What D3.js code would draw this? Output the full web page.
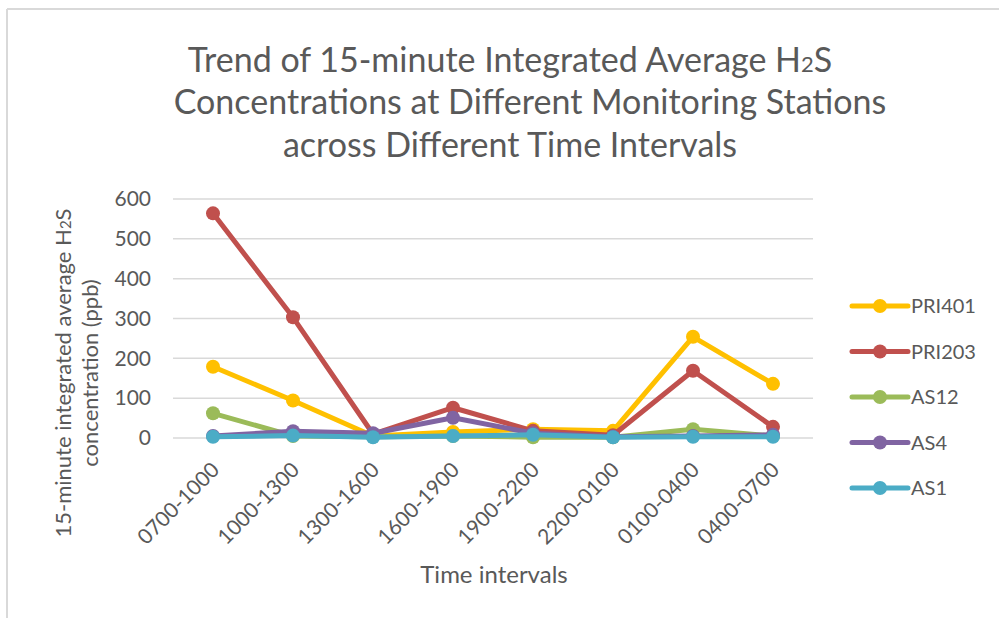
<!DOCTYPE html>
<html>
<head>
<meta charset="utf-8">
<script src="https://cdn.jsdelivr.net/npm/d3@7"></script>
<style>
  body { margin: 0; background: #fff; }
  text { font-family: Lato, "Open Sans", sans-serif; fill: #595959; }
</style>
</head>
<body>
<div id="chart"></div>
<script>
// time intervals on the x axis
var intervals = ["0700-1000", "1000-1300", "1300-1600", "1600-1900", "1900-2200", "2200-0100", "0100-0400", "0400-0700"];
var yTicks = [0, 100, 200, 300, 400, 500, 600];

// series values (ppb)
var pri401 = [179, 94, 5, 15, 22, 18, 254, 136];
var pri203 = [564, 303, 10, 76, 18, 7, 169, 28];
var as12 = [62, 5, 3, 5, 2, 2, 22, 5];
var as4 = [5, 17, 12, 51, 12, 3, 5, 8];
var as1 = [3, 6, 2, 5, 8, 2, 3, 3];

var seriesNames = ["PRI401", "PRI203", "AS12", "AS4", "AS1"];
var seriesColors = ["#ffc000", "#c0504d", "#9bbb59", "#8064a2", "#4bacc6"];
var seriesValues = [pri401, pri203, as12, as4, as1];

var W = 999, H = 618;
var margin = {top: 199, right: 186, bottom: 180, left: 173},
    width = W - margin.left - margin.right,
    height = H - margin.top - margin.bottom;

var svg = d3.select("#chart").append("svg")
    .attr("width", W)
    .attr("height", H);

// outer frame (only top and left edges show)
svg.append("line").attr("x1", 7).attr("x2", W).attr("y1", 9).attr("y2", 9)
    .attr("stroke", "#d9d9d9").attr("stroke-width", 2);
svg.append("line").attr("x1", 7).attr("x2", 7).attr("y1", 9).attr("y2", H)
    .attr("stroke", "#d9d9d9").attr("stroke-width", 2);

// title
var title = svg.append("text")
    .attr("text-anchor", "middle")
    .style("font-size", "34px");
var t1 = title.append("tspan").attr("x", 510).attr("y", 72);
t1.append("tspan").text("Trend of 15-minute Integrated Average H");
t1.append("tspan").style("font-size", "22px").text("2");
t1.append("tspan").text("S");
title.append("tspan").attr("x", 530).attr("y", 114).text("Concentrations at Different Monitoring Stations");
title.append("tspan").attr("x", 510).attr("y", 157).text("across Different Time Intervals");

var g = svg.append("g")
    .attr("transform", "translate(" + margin.left + "," + margin.top + ")");

var x = d3.scalePoint()
    .domain(intervals)
    .range([0, width])
    .padding(0.5);

var y = d3.scaleLinear()
    .domain([0, 600])
    .range([height, 0]);

// gridlines
g.selectAll(".grid")
    .data(yTicks)
  .enter().append("line")
    .attr("class", "grid")
    .attr("x1", 0).attr("x2", width)
    .attr("y1", function(d) { return y(d); })
    .attr("y2", function(d) { return y(d); })
    .attr("stroke", "#d9d9d9")
    .attr("stroke-width", 1.5);

var yAxis = d3.axisLeft(y).tickValues(yTicks).tickSize(0).tickPadding(22);
g.append("g").call(yAxis)
    .call(function(s) { s.select(".domain").remove(); })
    .selectAll("text")
    .style("font-size", "21px")
    .style("font-family", "Lato, sans-serif")
    .attr("fill", "#595959");

var xAxis = d3.axisBottom(x).tickSize(0);
g.append("g")
    .attr("transform", "translate(0," + height + ")")
    .call(xAxis)
    .call(function(s) { s.select(".domain").remove(); })
    .selectAll("text")
    .style("font-size", "21px")
    .style("font-family", "Lato, sans-serif")
    .attr("fill", "#595959")
    .attr("text-anchor", "end")
    .attr("x", 0).attr("y", 0)
    .attr("dy", "0.35em")
    .attr("transform", "translate(2,28) rotate(-45)");

// axis titles
svg.append("text")
    .attr("x", 494).attr("y", 583)
    .attr("text-anchor", "middle")
    .style("font-size", "24px")
    .text("Time intervals");

var yt = svg.append("text")
    .attr("transform", "translate(71,373) rotate(-90)")
    .attr("text-anchor", "middle")
    .style("font-size", "22px");
var yl1 = yt.append("tspan").attr("x", 0).attr("y", 0);
yl1.append("tspan").text("15-minute integrated average H");
yl1.append("tspan").style("font-size", "15px").text("2");
yl1.append("tspan").text("S");
yt.append("tspan").attr("x", 0).attr("y", 27).text("concentration (ppb)");

var line = d3.line()
    .x(function(d, i) { return x(intervals[i]); })
    .y(function(d) { return y(d); });

seriesValues.forEach(function(vals, k) {
  g.append("path")
      .datum(vals)
      .attr("fill", "none")
      .attr("stroke", seriesColors[k])
      .attr("stroke-width", 5)
      .attr("stroke-linejoin", "round")
      .attr("d", line);
  g.selectAll(".pt" + k)
      .data(vals)
    .enter().append("circle")
      .attr("cx", function(d, i) { return x(intervals[i]); })
      .attr("cy", function(d) { return y(d); })
      .attr("r", 7)
      .attr("fill", seriesColors[k]);
});

// legend
var legend = svg.append("g")
    .selectAll("g")
    .data(seriesNames)
  .enter().append("g")
    .attr("transform", function(d, i) { return "translate(852," + (306 + i * 45.5) + ")"; });

legend.append("line")
    .attr("x1", 0).attr("x2", 56)
    .attr("stroke", function(d, i) { return seriesColors[i]; })
    .attr("stroke-width", 5)
    .attr("stroke-linecap", "round");
legend.append("circle")
    .attr("cx", 28).attr("r", 7)
    .attr("fill", function(d, i) { return seriesColors[i]; });
legend.append("text")
    .attr("x", 59).attr("dy", "0.35em")
    .style("font-size", "20px")
    .text(function(d) { return d; });
</script>
</body>
</html>
